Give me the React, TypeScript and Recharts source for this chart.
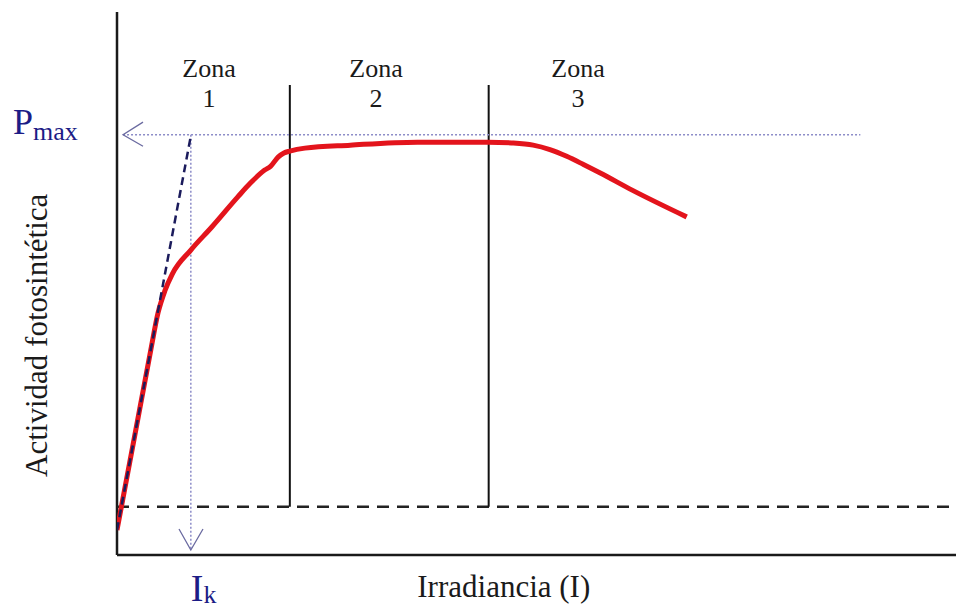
import React from 'react';
import { ComposedChart, Line, XAxis, YAxis, ReferenceLine, ReferenceDot } from 'recharts';

// Data (arbitrary units: irradiance 0..100, activity with Pmax = 100)
const PMAX = 100;
const IK = 8.8;
const ZONE_BOUNDS = [20.6, 44.3];
const ZONE_TOP = 113.4;
const RESP = -6.3;
const X_DOMAIN = [0, 100];
const Y_DOMAIN = [-13, 133];

const curveX = [0, 2, 4, 4.9, 5.7, 6.6, 8.8, 11.3, 14.4, 15.9, 17.6, 18.3, 19.2, 19.9, 20.6, 22.4, 27.8, 35.8, 44.2, 47.0, 49.6, 51.6, 53.6, 55.6, 57.6, 61.4, 67.9];
const curveY = [-6.3, 17.7, 41.8, 52.2, 58.0, 62.6, 69.0, 75.2, 83.3, 87.0, 90.5, 91.5, 94.0, 95.1, 95.6, 96.4, 97.2, 98.0, 98.0, 97.8, 97.2, 96.0, 94.2, 92.0, 89.7, 85.1, 77.9];

const zoneNames = ['Zona', 'Zona', 'Zona'];
const zoneNumbers = ['1', '2', '3'];
const zoneLabelX = [10.97, 30.87, 54.95];

const curveData = curveX.map((x, i) => ({ x, y: curveY[i] }));
const slopeData = [{ x: 0, y: RESP }, { x: IK, y: 99.7 }];
const pmaxArrow = [{ x: 3.1, y: 103.4 }, { x: 0.72, y: PMAX }, { x: 3.1, y: 96.9 }];
const ikArrow = [{ x: 7.39, y: -6.0 }, { x: IK, y: -11.66 }, { x: 10.25, y: -6.0 }];

const FONT = '"Liberation Serif", "Times New Roman", serif';
const NAVY = '#1c1c86';

const textLabel = (value: string, size: number, anchor: string, color = '#1a1a1a') => (props: any) => {
  const vb = props.viewBox || {};
  return (
    <text x={vb.x} y={vb.y} textAnchor={anchor} fontFamily={FONT} fontSize={size} fill={color}>
      {value}
    </text>
  );
};

const subLabel = (main: string, sub: string, mainSize: number, subSize: number, dy: number) => (props: any) => {
  const vb = props.viewBox || {};
  return (
    <text x={vb.x} y={vb.y} textAnchor="start" fontFamily={FONT} fontSize={mainSize} fill={NAVY}>
      {main}
      <tspan fontSize={subSize} dy={dy}>{sub}</tspan>
    </text>
  );
};

const rotLabel = (value: string, size: number) => (props: any) => {
  const vb = props.viewBox || {};
  return (
    <text
      x={vb.x}
      y={vb.y}
      transform={`rotate(-90 ${vb.x} ${vb.y})`}
      textAnchor="start"
      fontFamily={FONT}
      fontSize={size}
      fill="#1a1a1a"
    >
      {value}
    </text>
  );
};

const dotProps = { r: 0, fill: 'none', stroke: 'none', ifOverflow: 'visible' as const };

export default function App() {
  return (
    <div style={{ position: 'absolute', left: 0, top: 0, width: 956, height: 609, background: '#fff' }}>
      <ComposedChart width={956} height={609} margin={{ top: 12, right: 0, bottom: 54, left: 117 }}>
        <XAxis type="number" dataKey="x" domain={X_DOMAIN} allowDataOverflow hide />
        <YAxis type="number" dataKey="y" domain={Y_DOMAIN} allowDataOverflow hide />
        <ReferenceLine x={X_DOMAIN[0]} stroke="#1a1a1a" strokeWidth={2.5} ifOverflow="visible" />
        <ReferenceLine y={Y_DOMAIN[0]} stroke="#1a1a1a" strokeWidth={2.5} ifOverflow="visible" />
        <ReferenceLine y={0} stroke="#222" strokeWidth={2.5} strokeDasharray="12 8" />
        {ZONE_BOUNDS.map((b) => (
          <ReferenceLine
            key={b}
            segment={[{ x: b, y: 0 }, { x: b, y: ZONE_TOP }]}
            stroke="#111"
            strokeWidth={2}
            ifOverflow="visible"
          />
        ))}
        <ReferenceLine
          segment={[{ x: 0.72, y: PMAX }, { x: 88.6, y: PMAX }]}
          stroke="#8c8cc8"
          strokeWidth={1.5}
          strokeDasharray="2 2"
          ifOverflow="visible"
        />
        <ReferenceLine
          segment={[{ x: IK, y: PMAX }, { x: IK, y: -11.66 }]}
          stroke="#8c8cc8"
          strokeWidth={1.5}
          strokeDasharray="2 2"
          ifOverflow="visible"
        />
        <Line data={pmaxArrow} dataKey="y" type="linear" stroke="#6a6aa0" strokeWidth={1.3} dot={false} isAnimationActive={false} />
        <Line data={ikArrow} dataKey="y" type="linear" stroke="#6a6aa0" strokeWidth={1.3} dot={false} isAnimationActive={false} />
        <Line data={curveData} dataKey="y" type="monotone" stroke="#e3141c" strokeWidth={5} dot={false} isAnimationActive={false} />
        <Line data={slopeData} dataKey="y" type="linear" stroke="#1b1b5c" strokeWidth={2.5} strokeDasharray="8 5" dot={false} isAnimationActive={false} />

        {zoneLabelX.map((x, i) => (
          <ReferenceDot key={'zn' + i} x={x} y={115.5} {...dotProps} label={{ content: textLabel(zoneNames[i], 26, 'middle') }} />
        ))}
        {zoneLabelX.map((x, i) => (
          <ReferenceDot key={'zd' + i} x={x} y={107.5} {...dotProps} label={{ content: textLabel(zoneNumbers[i], 26, 'middle') }} />
        ))}
        <ReferenceDot x={-12.4} y={100.2} {...dotProps} label={{ content: subLabel('P', 'max', 36, 26, 6) }} />
        <ReferenceDot x={IK} y={-25.4} {...dotProps} label={{ content: subLabel('I', 'k', 38, 26, 2) }} />
        <ReferenceDot x={46.1} y={-24.3} {...dotProps} label={{ content: textLabel('Irradiancia (I)', 31, 'middle') }} />
        <ReferenceDot x={-8.4} y={8.0} {...dotProps} label={{ content: rotLabel('Actividad fotosintética', 31) }} />
      </ComposedChart>
    </div>
  );
}
